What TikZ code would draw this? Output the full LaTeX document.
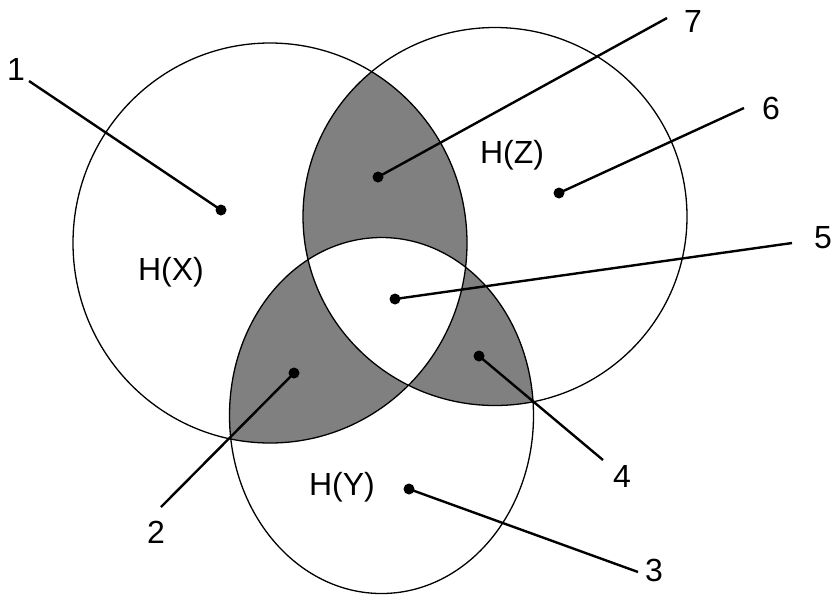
\documentclass[tikz,border=0pt]{standalone}
\usepackage{fontspec}
\setmainfont{Liberation Sans}
\usetikzlibrary{positioning}
\definecolor{RegionGray}{RGB}{128,128,128}

\tikzset{
  setline/.style={line width=0.65pt},
  leader/.style={line width=1.2pt},
  spot/.style={circle,fill=black,inner sep=0pt,minimum size=5.5pt},
  numlabel/.style={font=\fontsize{16}{19}\selectfont,inner sep=0pt},
  setlabel/.style={font=\fontsize{16}{19}\selectfont,inner sep=0pt}
}
\def\setX{(270,243) ellipse [x radius=98.5pt,y radius=100pt]}
\def\setY{(381.5,415.5) ellipse [x radius=76pt,y radius=89pt]}
\def\setZ{(495,216.5) ellipse [x radius=96pt,y radius=94.5pt]}

\begin{document}
\begin{tikzpicture}[x=0.5pt,y=-0.5pt]
  \useasboundingbox (0,0) rectangle (833,596);
  % pairwise overlaps in gray
  \begin{scope}\clip \setX; \fill[RegionGray] \setZ; \end{scope}
  \begin{scope}\clip \setX; \fill[RegionGray] \setY; \end{scope}
  \begin{scope}\clip \setY; \fill[RegionGray] \setZ; \end{scope}
  % common part stays white
  \begin{scope}\clip \setX; \clip \setY; \fill[white] \setZ; \end{scope}
  \draw[setline] \setX;
  \draw[setline] \setY;
  \draw[setline] \setZ;

  \node[setlabel] (hx) at (171,272) {H(X)};
  \node[setlabel] (hz) at (512,155) {H(Z)};
  \node[setlabel] (hy) at (342,487) {H(Y)};

  % region markers
  \node[spot] (d1) at (221,210) {};
  \node[spot] (d2) at (294,373) {};
  \node[spot] (d3) at (409,489) {};
  \node[spot] (d4) at (479,356) {};
  \node[spot] (d5) at (395,299) {};
  \node[spot] (d6) at (559,193) {};
  \node[spot] (d7) at (378,177) {};

  \coordinate (e1) at (29,81);
  \coordinate (e2) at (161,507);
  \coordinate (e3) at (638,572);
  \coordinate (e4) at (603,460);
  \coordinate (e5) at (792,243);
  \coordinate (e6) at (744,108);
  \coordinate (e7) at (667,18);

  \node[numlabel] (n1) at (16,69) {1};
  \node[numlabel] (n2) at (156,532) {2};
  \node[numlabel] (n3) at (654,570) {3};
  \node[numlabel] (n4) at (622,476) {4};
  \node[numlabel] (n5) at (823,238) {5};
  \node[numlabel] (n6) at (771,108) {6};
  \node[numlabel] (n7) at (693,21) {7};

  \foreach \i in {1,...,7}
    \draw[leader] (d\i.center) -- (e\i);
\end{tikzpicture}
\end{document}
